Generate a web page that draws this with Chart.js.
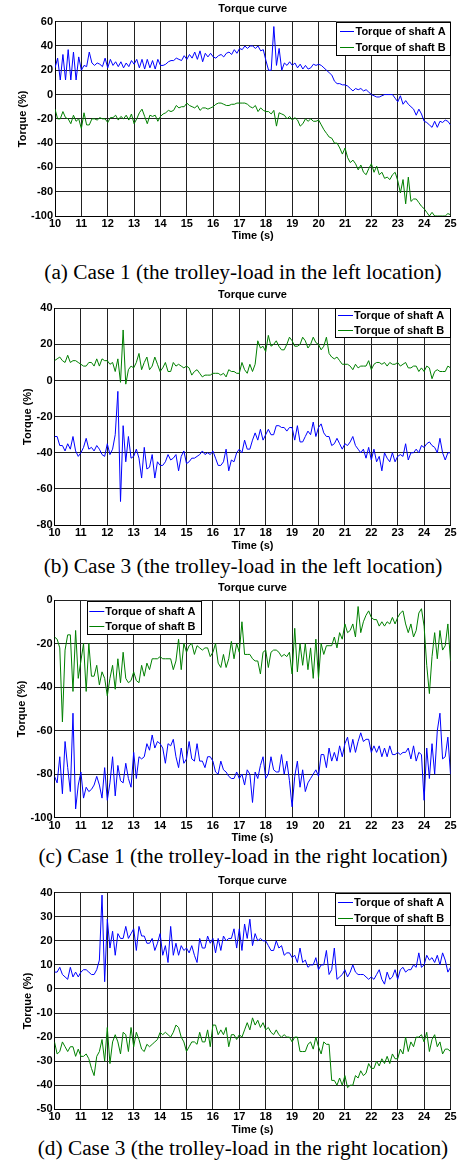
<!DOCTYPE html>
<html>
<head>
<meta charset="utf-8">
<script src="https://cdn.jsdelivr.net/npm/chart.js@4.4.1/dist/chart.umd.min.js"></script>
<style>
body { margin: 0; background: #fff; }
#page { position: relative; width: 460px; height: 1168px; overflow: hidden; background: #fff; }
#page canvas { position: absolute; left: 0; }
.cap { position: absolute; left: 243px; transform: translateX(-50%); white-space: nowrap;
       font-family: "Liberation Serif", "Times New Roman", serif; font-size: 21.3px; line-height: 21px; color: #000; }
</style>
</head>
<body>
<div id="page">
  <canvas id="chartA"></canvas>
  <div class="cap" style="top:262px">(a) Case 1 (the trolley-load in the left location)</div>
  <canvas id="chartB"></canvas>
  <div class="cap" style="top:556px">(b) Case 3 (the trolley-load in the left location)</div>
  <canvas id="chartC"></canvas>
  <div class="cap" style="top:846px">(c) Case 1 (the trolley-load in the right location)</div>
  <canvas id="chartD"></canvas>
  <div class="cap" style="top:1138px">(d) Case 3 (the trolley-load in the right location)</div>
</div>
<script>
// sample times, 10.0 .. 25.0 s every 0.1 s
var timeS = [];
for (var i = 0; i <= 150; i++) timeS.push(+(10 + i * 0.1).toFixed(1));

var xTicks = [10, 11, 12, 13, 14, 15, 16, 17, 18, 19, 20, 21, 22, 23, 24, 25];
var seriesNames = ["Torque of shaft A", "Torque of shaft B"];

// (a) case 1, left
var yTicksA = [-100, -80, -60, -40, -20, 0, 20, 40, 60];
var shaftA_a = [
  22, 30, 12, 33, 12, 37, 12, 35, 12, 31,
  20, 24, 23, 35, 26, 24, 26, 25, 23, 30,
  22, 29, 24, 27, 23, 27, 22, 26, 23, 28,
  25, 29, 22, 29, 21, 29, 22, 28, 21, 29,
  24, 24, 25, 27, 28, 28, 30, 29, 28, 32,
  29, 33, 30, 35, 29, 36, 27, 34, 31, 34,
  31, 30, 32, 33, 31, 34, 35, 33, 37, 34,
  38, 37, 40, 38, 40, 40, 38, 40, 36, 37,
  28, 20, 20, 56, 24, 38, 20, 26, 24, 27,
  24, 26, 22, 25, 21, 24, 21, 22, 25, 24,
  25, 24, 22, 20, 18, 16, 11, 9, 9, 8,
  8, 7, 5, 3, 5, 4, 5, 3, 4, 2,
  0, -1, -2, -2, -1, 0, 0, 0, 0, -3,
  -6, -1, -8, -5, -8, -10, -12, -17, -12, -16,
  -22, -23, -25, -27, -22, -27, -22, -23, -21, -22,
  -25];
var shaftB_a = [
  -12, -20, -20, -14, -19, -20, -24, -17, -22, -20,
  -28, -15, -25, -25, -20, -20, -21, -19, -20, -20,
  -23, -19, -19, -17, -21, -18, -20, -17, -21, -16,
  -24, -20, -15, -12, -18, -24, -17, -18, -17, -22,
  -18, -16, -15, -13, -14, -13, -9, -11, -10, -10,
  -7, -9, -10, -11, -9, -13, -11, -11, -12, -11,
  -10, -8, -7, -7, -8, -9, -9, -8, -8, -7,
  -7, -7, -7, -8, -10, -11, -9, -14, -11, -13,
  -14, -14, -16, -13, -26, -15, -16, -17, -20, -18,
  -21, -19, -21, -26, -24, -20, -22, -20, -22, -22,
  -21, -25, -29, -32, -35, -36, -40, -40, -44, -49,
  -44, -52, -56, -54, -57, -62, -58, -64, -66, -61,
  -57, -64, -59, -66, -64, -69, -68, -70, -66, -64,
  -71, -81, -70, -90, -68, -88, -86, -86, -89, -92,
  -94, -97, -100, -97, -100, -100, -100, -100, -100, -98,
  -99];

// (b) case 3, left
var yTicksB = [-80, -60, -40, -20, 0, 20, 40];
var shaftA_b = [
  -31, -31, -36, -36, -39, -35, -38, -31, -39, -42,
  -40, -37, -32, -38, -37, -39, -36, -38, -41, -42,
  -35, -41, -38, -30, -6, -67, -25, -45, -31, -43,
  -42, -38, -43, -54, -37, -49, -48, -41, -54, -45,
  -47, -47, -45, -41, -44, -43, -41, -50, -42, -39,
  -46, -45, -43, -43, -42, -41, -39, -41, -40, -41,
  -39, -43, -47, -47, -45, -38, -50, -44, -45, -40,
  -38, -40, -33, -38, -38, -33, -29, -33, -27, -33,
  -30, -27, -30, -30, -25, -25, -26, -26, -28, -26,
  -26, -33, -25, -34, -34, -31, -28, -30, -23, -31,
  -26, -24, -29, -31, -31, -36, -35, -32, -35, -38,
  -35, -36, -34, -31, -36, -38, -40, -38, -43, -37,
  -44, -38, -45, -42, -50, -40, -43, -45, -40, -45,
  -42, -41, -42, -35, -44, -40, -40, -38, -40, -36,
  -37, -35, -34, -36, -37, -40, -32, -40, -44, -40,
  -40];
var shaftB_b = [
  11, 12, 13, 11, 10, 14, 10, 11, 11, 10,
  9, 8, 8, 10, 10, 8, 12, 8, 12, 11,
  11, 9, 10, 5, 12, -1, 28, -2, 6, 8,
  7, 10, 15, 6, 10, 13, 6, 8, 13, 9,
  5, 7, 10, 5, 5, 10, 8, 9, 8, 7,
  8, 7, 3, 5, 6, 4, 2, 3, 3, 3,
  4, 4, 4, 3, 4, 2, 6, 5, 5, 4,
  4, 10, 6, 4, 9, 5, 9, 22, 18, 19,
  16, 25, 19, 20, 22, 19, 17, 17, 20, 24,
  22, 19, 19, 20, 24, 22, 18, 20, 24, 21,
  20, 17, 19, 24, 15, 13, 12, 13, 11, 9,
  9, 9, 8, 6, 9, 7, 8, 8, 8, 11,
  6, 9, 10, 10, 9, 10, 8, 10, 9, 9,
  10, 8, 9, 10, 7, 7, 8, 8, 5, 7,
  5, 8, 7, 1, 5, 6, 5, 5, 5, 8,
  7];

// (c) case 1, right
var yTicksC = [-100, -80, -60, -40, -20, 0];
var shaftA_c = [
  -81, -84, -72, -89, -65, -77, -88, -52, -96, -85,
  -79, -91, -86, -88, -87, -85, -81, -85, -91, -77,
  -92, -84, -72, -90, -76, -83, -84, -75, -82, -86,
  -70, -82, -72, -73, -72, -66, -69, -62, -68, -65,
  -66, -68, -75, -66, -67, -64, -72, -77, -68, -75,
  -73, -65, -73, -74, -66, -74, -74, -77, -72, -72,
  -74, -79, -80, -74, -78, -79, -81, -82, -82, -79,
  -82, -80, -85, -78, -80, -93, -79, -82, -76, -72,
  -82, -80, -72, -78, -79, -79, -71, -80, -74, -83,
  -95, -81, -74, -86, -78, -88, -84, -82, -80, -78,
  -81, -71, -71, -77, -68, -74, -70, -74, -67, -72,
  -66, -63, -70, -64, -70, -65, -61, -65, -64, -64,
  -70, -67, -70, -67, -72, -68, -72, -67, -71, -71,
  -70, -71, -70, -70, -68, -73, -67, -74, -70, -71,
  -92, -68, -82, -66, -80, -60, -52, -73, -72, -63,
  -80];
var shaftB_c = [
  -17, -18, -22, -56, -23, -16, -16, -42, -14, -36,
  -28, -20, -42, -20, -35, -35, -30, -39, -33, -36,
  -44, -36, -30, -41, -27, -38, -24, -36, -38, -37,
  -33, -37, -38, -30, -35, -29, -32, -27, -27, -27,
  -26, -27, -27, -27, -27, -32, -28, -18, -32, -20,
  -24, -21, -20, -25, -21, -22, -23, -22, -22, -26,
  -24, -20, -29, -31, -25, -31, -27, -19, -27, -20,
  -24, -10, -25, -25, -25, -27, -28, -28, -34, -24,
  -23, -31, -24, -23, -23, -24, -26, -25, -26, -24,
  -34, -13, -33, -20, -30, -20, -32, -22, -36, -18,
  -36, -20, -25, -21, -21, -21, -17, -22, -15, -18,
  -11, -15, -14, -11, -17, -3, -15, -10, -7, -5,
  -8, -9, -9, -12, -10, -12, -10, -11, -8, -11,
  -8, -6, -5, -11, -15, -11, -17, -14, -6, -4,
  -12, -30, -43, -26, -15, -27, -14, -23, -21, -11,
  -28];

// (d) case 3, right
var yTicksD = [-50, -40, -30, -20, -10, 0, 10, 20, 30, 40];
var shaftA_d = [
  7, 7, 9, 6, 5, 4, 9, 5, 7, 5,
  7, 8, 8, 7, 6, 6, 8, 12, 39, 3,
  29, 17, 24, 14, 23, 21, 21, 26, 21, 23,
  25, 16, 26, 22, 22, 19, 19, 21, 16, 19,
  23, 14, 18, 11, 26, 14, 19, 14, 18, 16,
  17, 15, 18, 14, 11, 21, 17, 17, 22, 19,
  21, 15, 21, 16, 22, 20, 21, 21, 25, 17,
  25, 16, 27, 21, 29, 18, 23, 20, 21, 20,
  20, 18, 16, 16, 20, 17, 18, 14, 15, 15,
  13, 14, 11, 17, 11, 12, 9, 10, 10, 13,
  8, 10, 10, 16, 6, 8, 17, 4, 5, 6,
  8, 5, 7, 10, 7, 6, 6, 6, 5, 4,
  5, 4, 6, 8, 4, 2, 7, 4, 5, 8,
  4, 8, 9, 7, 8, 8, 10, 9, 15, 9,
  10, 14, 12, 13, 11, 14, 10, 15, 12, 7,
  9];
var shaftB_d = [
  -22, -27, -26, -22, -24, -26, -24, -24, -28, -25,
  -28, -28, -27, -29, -33, -36, -28, -26, -21, -30,
  -16, -31, -22, -19, -22, -27, -18, -19, -26, -16,
  -24, -18, -21, -25, -26, -23, -24, -23, -22, -21,
  -18, -19, -18, -19, -20, -18, -15, -16, -20, -22,
  -26, -24, -22, -22, -23, -18, -22, -22, -17, -24,
  -15, -15, -19, -17, -19, -16, -24, -19, -19, -21,
  -19, -20, -17, -14, -17, -12, -15, -13, -16, -14,
  -17, -16, -18, -19, -17, -19, -20, -19, -20, -20,
  -22, -20, -20, -26, -26, -26, -23, -22, -25, -20,
  -24, -27, -22, -23, -23, -38, -38, -40, -37, -40,
  -36, -41, -40, -40, -36, -37, -34, -36, -35, -31,
  -33, -33, -30, -32, -29, -31, -28, -31, -27, -29,
  -29, -25, -27, -20, -26, -22, -24, -20, -20, -19,
  -22, -18, -26, -21, -19, -24, -22, -27, -25, -25,
  -26];

Chart.defaults.font.family = '"Liberation Sans", Arial, sans-serif';
Chart.defaults.font.size = 11;
Chart.defaults.font.weight = 'bold';
Chart.defaults.color = '#000';

var FONT = 'bold 11px "Liberation Sans", Arial, sans-serif';

// title + in-axes legend, drawn the MATLAB way
var panelDecor = {
  id: 'panelDecor',
  afterDraw: function(chart, args, o) {
    var ctx = chart.ctx, a = chart.chartArea;
    ctx.save();
    ctx.font = FONT;
    ctx.fillStyle = '#000';
    ctx.textAlign = 'center';
    ctx.textBaseline = 'middle';
    ctx.fillText('Torque curve', (a.left + a.right) / 2, o.titleY);

    var L = o.legend;
    ctx.fillStyle = '#fff';
    ctx.fillRect(L.x, L.y, L.w, L.h);
    ctx.strokeStyle = '#000';
    ctx.lineWidth = 1;
    ctx.strokeRect(Math.round(L.x) + 0.5, Math.round(L.y) + 0.5, Math.round(L.w) - 1, Math.round(L.h) - 1);
    chart.data.datasets.forEach(function(ds, k) {
      var y = Math.round(L.y + L.rows[k]) + 0.5;
      ctx.strokeStyle = ds.borderColor;
      ctx.beginPath();
      ctx.moveTo(L.x + L.l0, y);
      ctx.lineTo(L.x + L.l1, y);
      ctx.stroke();
      ctx.fillStyle = '#000';
      ctx.textAlign = 'left';
      ctx.fillText(ds.label, L.x + L.tx, y);
    });
    ctx.restore();
  }
};

var panels = [
  { id: 'chartA', top: 0, plotTop: 21.7, plotBottom: 216, left: 55, right: 450.5,
    titleY: 9, timeY: 235.5, yTitleX: 22.5, yTicks: yTicksA, a: shaftA_a, b: shaftB_a,
    legend: { x: 336, y: 21.7, w: 114.5, h: 33.5, rows: [9, 25], l0: 4, l1: 18, tx: 19.5 } },
  { id: 'chartB', top: 284, plotTop: 308.3, plotBottom: 525, left: 54.5, right: 450.5,
    titleY: 295, timeY: 545.8, yTitleX: 28.3, yTicks: yTicksB, a: shaftA_b, b: shaftB_b,
    legend: { x: 335, y: 308.3, w: 115.5, h: 29.5, rows: [7, 22], l0: 3, l1: 18, tx: 19 } },
  { id: 'chartC', top: 576, plotTop: 600, plotBottom: 817.7, left: 54.5, right: 450.5,
    titleY: 587.5, timeY: 837, yTitleX: 22.3, yTicks: yTicksC, a: shaftA_c, b: shaftB_c,
    legend: { x: 86.7, y: 600.7, w: 114.6, h: 33.6, rows: [10, 25], l0: 2.6, l1: 17.6, tx: 18.6 } },
  { id: 'chartD', top: 868, plotTop: 892.7, plotBottom: 1109.3, left: 54.5, right: 450.5,
    titleY: 880.7, timeY: 1129.2, yTitleX: 28.3, yTicks: yTicksD, a: shaftA_d, b: shaftB_d,
    legend: { x: 335, y: 892.7, w: 115.5, h: 33.3, rows: [9.6, 25.6], l0: 3, l1: 18, tx: 19 } }
];

panels.forEach(function(p) {
  var canvas = document.getElementById(p.id);
  var h = Math.round(p.timeY + 5.5 - p.top);
  var xH = h - (p.plotBottom - p.top);
  canvas.width = 460;
  canvas.height = h;
  canvas.style.top = p.top + 'px';

  var lg = p.legend;
  new Chart(canvas, {
    type: 'line',
    data: {
      labels: timeS,
      datasets: [
        { label: seriesNames[0], data: p.a, borderColor: '#0000ff', borderWidth: 1,
          pointRadius: 0, tension: 0, fill: false },
        { label: seriesNames[1], data: p.b, borderColor: '#008000', borderWidth: 1,
          pointRadius: 0, tension: 0, fill: false }
      ]
    },
    options: {
      responsive: false,
      animation: false,
      events: [],
      layout: { padding: { top: p.plotTop - p.top, right: 460 - p.right, left: 0, bottom: 0 } },
      plugins: {
        legend: { display: false },
        tooltip: { enabled: false },
        panelDecor: {
          titleY: p.titleY - p.top,
          legend: { x: lg.x, y: lg.y - p.top, w: lg.w, h: lg.h, rows: lg.rows, l0: lg.l0, l1: lg.l1, tx: lg.tx }
        }
      },
      scales: {
        x: {
          type: 'linear', min: 10, max: 25,
          afterBuildTicks: function(s) { s.ticks = xTicks.map(function(v) { return { value: v }; }); },
          afterFit: function(s) { s.height = xH; },
          grid: { color: '#222', lineWidth: 1, drawTicks: false },
          border: { color: '#000', width: 1 },
          ticks: { padding: 2.5, maxRotation: 0, autoSkip: false, font: { lineHeight: 1 } },
          title: { display: true, text: 'Time (s)', padding: 0, font: { lineHeight: 1 } }
        },
        y: {
          type: 'linear', min: p.yTicks[0], max: p.yTicks[p.yTicks.length - 1],
          afterBuildTicks: function(s) { s.ticks = p.yTicks.map(function(v) { return { value: v }; }); },
          afterFit: function(s) { s.width = p.left; },
          grid: { color: '#222', lineWidth: 1, drawTicks: false },
          border: { color: '#000', width: 1 },
          ticks: { padding: 2, autoSkip: false, font: { lineHeight: 1 } },
          title: { display: true, text: 'Torque (%)', padding: { top: p.yTitleX - 5.5, bottom: 0 }, font: { lineHeight: 1 } }
        }
      }
    },
    plugins: [panelDecor]
  });
});
</script>
</body>
</html>
